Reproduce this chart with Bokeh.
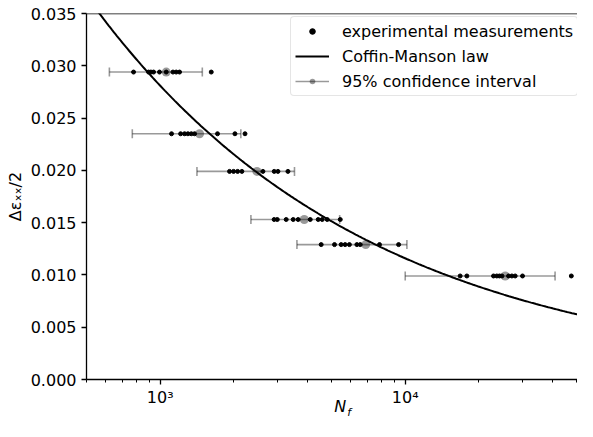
import numpy as np
from bokeh.plotting import figure
from bokeh.models import (FixedTicker, PrintfTickFormatter, CustomJSTickFormatter, Span,
                          Legend, LegendItem, LogAxis)
from bokeh.embed import file_html
from bokeh.resources import INLINE

# ---------------- data ----------------
strain_levels = [0.0294, 0.0235, 0.0199, 0.0153, 0.0129, 0.0099]

cycles_level1 = [778, 896, 916, 939, 993, 1058, 1127, 1162, 1199, 1615]
cycles_level2 = [1112, 1211, 1257, 1297, 1339, 1381, 1713, 2018, 2218]
cycles_level3 = [1918, 1992, 2069, 2154, 2625, 2919, 3023, 3321]
cycles_level4 = [2917, 3004, 3267, 3490, 3656, 4095, 4415, 4583, 4805, 5430]
cycles_level5 = [4539, 5145, 5477, 5686, 5918, 6349, 6553, 7853, 9397]
cycles_level6 = [16760, 17850, 22930, 23650, 24260, 24830, 26410, 27250, 28110, 30120, 47650]

ci_center = [1058, 1447, 2481, 3871, 6900, 25600]
ci_low = [620, 769, 1412, 2345, 3614, 10000]
ci_high = [1485, 2133, 3532, 5400, 10160, 40900]

# Coffin-Manson law parameters (fitted by eye to the drawn curve)
cm_coeff = 0.400
cm_exponent = -0.3845
cm_n_min = 500
cm_n_max = 60000

x_limits = (500, 50500)
y_limits = (0.0, 0.035)
x_ticks = [1000, 10000]
x_tick_labels = ["10³", "10⁴"]
x_minor_ticks = [500, 600, 700, 800, 900, 2000, 3000, 4000, 5000, 6000, 7000, 8000, 9000,
                 20000, 30000, 40000, 50000]
y_ticks = [0.0, 0.005, 0.010, 0.015, 0.020, 0.025, 0.030, 0.035]

x_label_main = "N"      # x axis label: N with subscript f
x_label_sub = "f"
y_label = "Δεₓₓ/2"
legend_labels = ["experimental measurements", "Coffin-Manson law", "95% confidence interval"]

# ---------------- build ----------------
levels_cycles = [cycles_level1, cycles_level2, cycles_level3,
                 cycles_level4, cycles_level5, cycles_level6]
pts_x, pts_y = [], []
for lvl, cyc in zip(strain_levels, levels_cycles):
    pts_x += cyc
    pts_y += [lvl] * len(cyc)

FONT = "DejaVu Sans"

p = figure(width=577, height=421, x_axis_type="log",
           x_range=x_limits, y_range=y_limits,
           output_backend="svg", toolbar_location=None,
           min_border_left=86, min_border_right=0, min_border_top=13, min_border_bottom=40)

p.xgrid.visible = False
p.ygrid.visible = False
p.outline_line_color = None
p.background_fill_color = "white"
p.border_fill_color = "white"

# data points
pts_r = p.scatter(pts_x, pts_y, size=4, color="black")

# law curve
n_curve = np.logspace(np.log10(cm_n_min), np.log10(cm_n_max), 300)
eps_curve = cm_coeff * n_curve ** cm_exponent
curve_r = p.line(n_curve, eps_curve, line_color="black", line_width=2)

# confidence intervals
err_r = p.segment(x0=ci_low, y0=strain_levels, x1=ci_high, y1=strain_levels,
                  line_color="black", line_alpha=0.4, line_width=1.6)
p.scatter(x=ci_low + ci_high, y=strain_levels + strain_levels, marker="dash",
          size=9, angle=np.pi / 2, line_color="black", line_alpha=0.4, line_width=1.6)
mean_r = p.scatter(ci_center, strain_levels, size=9, fill_color="black", fill_alpha=0.4,
                   line_color=None)

# top spine
p.add_layout(Span(location=y_limits[1], dimension="width", line_color="black", line_width=1.3))

# axes
for ax in (p.xaxis[0], p.yaxis[0]):
    ax.axis_line_color = "black"
    ax.axis_line_width = 1.3
    ax.major_tick_line_color = "black"
    ax.major_tick_line_width = 1.3
    ax.major_tick_in = 0
    ax.major_tick_out = 5
    ax.major_label_text_font = FONT
    ax.major_label_text_font_size = "16px"
    ax.major_label_text_color = "black"

p.xaxis.ticker = FixedTicker(ticks=x_ticks, minor_ticks=x_minor_ticks)
p.xaxis.formatter = CustomJSTickFormatter(
    args=dict(vals=x_ticks, labs=x_tick_labels),
    code="""
    for (let i = 0; i < vals.length; i++) {
        if (Math.abs(Math.log10(tick) - Math.log10(vals[i])) < 1e-6) return labs[i];
    }
    return '';
    """)
p.xaxis.minor_tick_line_color = "black"
p.xaxis.minor_tick_line_width = 1.0
p.xaxis.minor_tick_in = 0
p.xaxis.minor_tick_out = 3
p.xaxis.major_label_standoff = 3

p.yaxis.ticker = FixedTicker(ticks=y_ticks)
p.yaxis.formatter = PrintfTickFormatter(format="%.3f")
p.yaxis.minor_tick_line_color = None
p.yaxis.major_label_standoff = 5
p.yaxis.axis_label = y_label
p.yaxis.axis_label_text_font = FONT
p.yaxis.axis_label_text_font_size = "16px"
p.yaxis.axis_label_text_font_style = "normal"
p.yaxis.axis_label_text_color = "black"
p.yaxis.axis_label_standoff = 3


# x axis label "N_f": italic N and a smaller, lowered italic f, drawn as the only
# label of two bare helper axes stacked under the main x axis
def label_axis(text, where, size, standoff):
    ax = LogAxis(ticker=FixedTicker(ticks=[where], minor_ticks=[]),
                 formatter=CustomJSTickFormatter(args=dict(t=text), code="return t;"))
    ax.axis_line_color = None
    ax.major_tick_line_color = None
    ax.minor_tick_line_color = None
    ax.major_tick_in = 0
    ax.major_tick_out = 0
    ax.minor_tick_in = 0
    ax.minor_tick_out = 0
    ax.major_label_standoff = standoff
    ax.major_label_text_font = FONT
    ax.major_label_text_font_size = size
    ax.major_label_text_font_style = "italic"
    ax.major_label_text_color = "black"
    return ax


p.add_layout(label_axis(x_label_main, 5429, "16px", -13), "below")
p.add_layout(label_axis(x_label_sub, 5907, "11px", -13), "below")

legend = Legend(items=[
    LegendItem(label=legend_labels[0], renderers=[pts_r]),
    LegendItem(label=legend_labels[1], renderers=[curve_r]),
    LegendItem(label=legend_labels[2], renderers=[err_r, mean_r]),
], location=(204, 283), margin=0, padding=4, spacing=5,
    label_height=20, glyph_height=14, glyph_width=34, label_standoff=13,
    label_text_font=FONT, label_text_font_size="16px", label_text_color="black",
    border_line_color="#cccccc", border_line_width=1, background_fill_alpha=0.8,
    border_radius=4)
p.add_layout(legend)

open("out.html", "w").write(file_html(p, INLINE))
